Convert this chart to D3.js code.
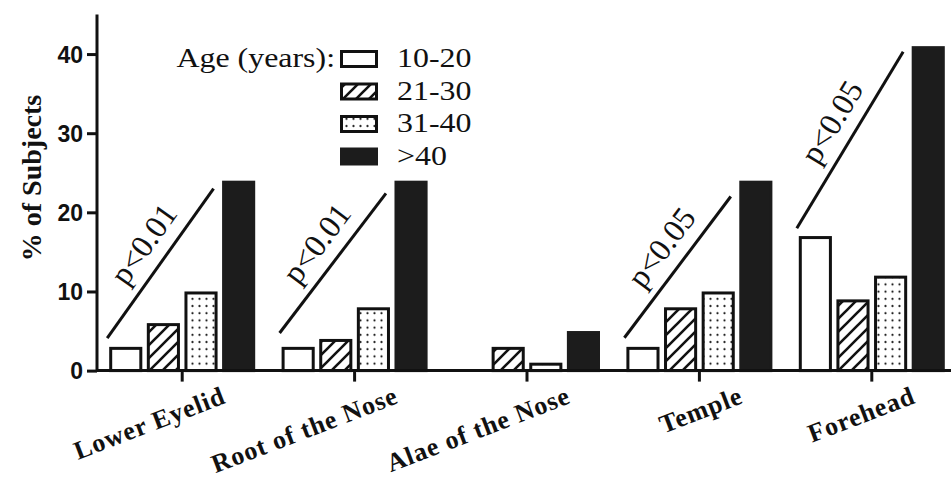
<!DOCTYPE html>
<html><head><meta charset="utf-8">
<script src="https://cdn.jsdelivr.net/npm/d3@7"></script>
<style>
html,body{margin:0;padding:0;background:#fff;}
svg{display:block;}
</style></head>
<body>
<svg id="chart" width="951" height="479"></svg>
<script>
const categories = ["Lower Eyelid", "Root of the Nose", "Alae of the Nose", "Temple", "Forehead"];
const ageGroups = ["10-20", "21-30", "31-40", ">40"];
const age10to20 = [3, 3, 0, 3, 17];
const age21to30 = [6, 4, 3, 8, 9];
const age31to40 = [10, 8, 1, 10, 12];
const ageOver40 = [24, 24, 5, 24, 41];
const yTicks = [0, 10, 20, 30, 40];
const legendTitle = "Age (years):";
const yTitle = "% of Subjects";
// trend annotations: category, start value, end value, label
const trendCats = ["Lower Eyelid", "Root of the Nose", "Temple", "Forehead"];
const trendStart = [4.1, 4.75, 4.15, 18];
const trendEnd = [23, 22.4, 22, 40.3];
const trendLabels = ["p<0.01", "p<0.01", "p<0.05", "p<0.05"];

const seriesValues = [age10to20, age21to30, age31to40, ageOver40];
const SERIF = "'Liberation Serif', 'Times New Roman', Times, serif";

const svg = d3.select("#chart");
svg.append("rect").attr("width", 951).attr("height", 479).attr("fill", "#fff");

const defs = svg.append("defs");
const hatch = defs.append("pattern").attr("id", "hatch")
  .attr("patternUnits", "userSpaceOnUse").attr("width", 13).attr("height", 13);
hatch.append("rect").attr("width", 13).attr("height", 13).attr("fill", "#fff");
hatch.append("path").attr("d", "M0,13 L13,0 M-4,4 L4,-4 M9,17 L17,9")
  .attr("stroke", "#111").attr("stroke-width", 2.6);
const dots = defs.append("pattern").attr("id", "dots")
  .attr("patternUnits", "userSpaceOnUse").attr("width", 7).attr("height", 7.2);
dots.append("rect").attr("width", 7).attr("height", 7.2).attr("fill", "#fff");
dots.append("circle").attr("cx", 3.5).attr("cy", 3.6).attr("r", 1.1).attr("fill", "#222");

const fills = ["#fff", "url(#hatch)", "url(#dots)", "#1c1c1c"];

const x0 = d3.scaleBand().domain(categories).range([96, 958]);
const x1 = d3.scaleBand().domain(ageGroups).range([-73, 73]).paddingInner(0.12);
const y = d3.scaleLinear().domain([0, 45]).range([370.6, 14.5]);

const bw = x1.bandwidth();
const cx = c => x0(c) + x0.bandwidth() / 2;

// bars
ageGroups.forEach((g, si) => {
  svg.append("g").selectAll("rect")
    .data(categories.map((c, i) => ({ c, v: seriesValues[si][i] })).filter(d => d.v > 0))
    .join("rect")
    .attr("x", d => cx(d.c) + x1(g) + 1.5)
    .attr("width", bw - 3)
    .attr("y", d => y(d.v) + 1.5)
    .attr("height", d => y(0) - y(d.v) - 1.5)
    .attr("fill", fills[si])
    .attr("stroke", si === 3 ? "#1c1c1c" : "#111")
    .attr("stroke-width", 3);
});

// axes
const yAxis = svg.append("g").attr("transform", "translate(97,0)")
  .call(d3.axisLeft(y).tickValues(yTicks).tickSize(10).tickPadding(4).tickFormat(d3.format("d")));
yAxis.select(".domain").attr("d", `M0,${y(45)}V${y(0)}`).attr("stroke", "#111").attr("stroke-width", 3);
yAxis.selectAll(".tick line").attr("stroke", "#111").attr("stroke-width", 3);
yAxis.selectAll(".tick text").attr("font-family", "'Liberation Sans', Arial, sans-serif")
  .attr("font-weight", "bold").attr("font-size", 23).attr("fill", "#111").attr("dy", "0.36em");

const xAxis = svg.append("g").attr("transform", `translate(0,${y(0)})`)
  .call(d3.axisBottom(x0).tickSize(11).tickFormat(""));
xAxis.select(".domain").attr("d", "M97,0H951").attr("stroke", "#111").attr("stroke-width", 3);
xAxis.selectAll(".tick line").attr("stroke", "#111").attr("stroke-width", 3);

// category labels
svg.append("g").selectAll("text").data(categories).join("text")
  .attr("transform", c => `translate(${cx(c) + 45},${y(0) + 32}) rotate(-21)`)
  .attr("text-anchor", "end")
  .attr("font-family", SERIF)
  .attr("font-weight", "bold").attr("font-size", 26).attr("letter-spacing", 0.9)
  .attr("fill", "#111")
  .text(c => c);

// y title
svg.append("text")
  .attr("transform", "translate(41,178) rotate(-90)")
  .attr("text-anchor", "middle")
  .attr("font-family", SERIF)
  .attr("font-weight", "bold").attr("font-size", 28).attr("fill", "#111")
  .text(yTitle);

// trend lines + labels
trendCats.forEach((c, i) => {
  const xs = cx(c) + x1(ageGroups[0]) - 2;
  const xe = cx(c) + x1(ageGroups[2]) + bw - 4;
  const ys = y(trendStart[i]), ye = y(trendEnd[i]);
  svg.append("line").attr("x1", xs).attr("y1", ys).attr("x2", xe).attr("y2", ye)
    .attr("stroke", "#111").attr("stroke-width", 3);
  const ang = Math.atan2(ye - ys, xe - xs) * 180 / Math.PI;
  svg.append("text")
    .attr("transform", `translate(${(xs + xe) / 2},${(ys + ye) / 2}) rotate(${ang})`)
    .attr("x", 6).attr("y", -14)
    .attr("text-anchor", "middle")
    .attr("font-family", SERIF)
    .attr("font-size", 32).attr("fill", "#111")
    .text(trendLabels[i]);
});

// legend
const lg = svg.append("g");
const rowY = i => 50 + i * 32.5;
lg.append("text")
  .attr("transform", `translate(335,${rowY(0) + 17}) scale(1.14,1)`)
  .attr("text-anchor", "end")
  .attr("font-family", SERIF)
  .attr("font-size", 28).attr("fill", "#111").text(legendTitle);
ageGroups.forEach((g, i) => {
  lg.append("rect").attr("x", 341.5).attr("y", rowY(i) + 1.5).attr("width", 35).attr("height", 15)
    .attr("fill", fills[i]).attr("stroke", i === 3 ? "#1c1c1c" : "#111").attr("stroke-width", 3);
  lg.append("text")
    .attr("transform", `translate(397,${rowY(i) + 17}) scale(1.14,1)`)
    .attr("font-family", SERIF)
    .attr("font-size", 28).attr("fill", "#111").text(g);
});
</script>
</body></html>
